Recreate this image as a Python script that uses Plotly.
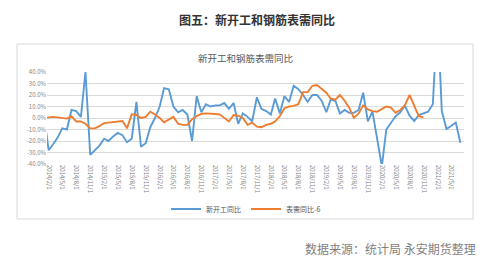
import pandas as pd
import plotly.graph_objects as go

# ---------------- data (monthly, starting 2014-01) ----------------
start_month = "2014-01-01"
new_start_yoy = [
    2, -28, -23, -17, -9, -10, 7, 6, 1, 40,
    -32, -28, -24, -18, -20, -16, -13, -15, -21, -18,
    14, -25, -22, -8, 0, 10, 26, 25, 10, 5,
    7, 3, -20, 19, 5, 12, 10, 11, 11, 13,
    8, 13, -5, 4, 1, -3, 18, 8, 6, 3,
    17, 4, 19, 14, 28, 25, 20, 14, 20, 20,
    15, 5, 16, 15, 4, 7, 4.5, 4.5, 7, 22,
    -3, 5.5, -17, -42, -10, -4, 1.5, 5, 10.7, 2,
    -2.6, 2.6, 4, 5.5, 12, 90, 6, -9.6, -7, -4,
    -21.5,
]
rebar_demand_yoy = [
    0, 0.5, 1, 0.5, 0, -0.5, 1.5, -3, -3, -5,
    -9, -9, -7, -4.5, -4, -3.5, -2.6, -2.6, -9, 3.2,
    2.6, 0, 1, 5.5, 3, 0, -3.8, -1, 1, -5,
    -6, -6, -1, 1.7, 3.5, 4, 4, 3.5, 3.2, 0,
    -3, 2.6, 2, 0, -6, -4, -7.5, -8, -6, -5,
    -3, 1.5, 8.5, 10, 10.5, 12, 22.5, 22.5, 28, 28.7,
    25, 22, 17, 16, 20, 15, 9, 0, 4, 11,
    7.5, 6, 5.5, 8, 10, 9, 4.5, 7, 11, 20,
    10, 1.5, 0.5,
]
series_names = ["新开工同比", "表需同比-6"]
series_colors = ["#5B9BD5", "#ED7D31"]

tick_dates = pd.date_range("2014-02-01", "2021-05-01", freq="3MS")
tick_text = [f"{d.year}/{d.month}/1" for d in tick_dates]
y_ticks = [40, 30, 20, 10, 0, -10, -20, -30, -40]
y_text = [f"{v:.1f}%" for v in y_ticks]

main_title = "图五：新开工和钢筋表需同比"
chart_title = "新开工和钢筋表需同比"
source_text = "数据来源：统计局 永安期货整理"

# ---------------- layout geometry (pixels) ----------------
W, H = 500, 260
PL, PR, PT, PB = 47, 464, 72, 164   # plot area


def px_x(x):
    return (x - PL) / (PR - PL)


def px_y(y):
    return (PB - y) / (PB - PT)


dates_a = pd.date_range(start_month, periods=len(new_start_yoy), freq="MS")
dates_b = pd.date_range(start_month, periods=len(rebar_demand_yoy), freq="MS")

font_cjk = "Noto Sans CJK SC, Noto Sans, sans-serif"

fig = go.Figure()
fig.add_trace(go.Scatter(x=dates_a, y=new_start_yoy, mode="lines", name=series_names[0],
                         line=dict(color=series_colors[0], width=1.9)))
fig.add_trace(go.Scatter(x=dates_b, y=rebar_demand_yoy, mode="lines", name=series_names[1],
                         line=dict(color=series_colors[1], width=1.9)))

fig.update_layout(
    width=W, height=H,
    margin=dict(l=PL, r=W - PR, t=PT, b=H - PB),
    paper_bgcolor="white", plot_bgcolor="white",
    font=dict(family=font_cjk, color="#595959"),
    showlegend=True,
    legend=dict(orientation="h", x=px_x(246), xanchor="center", y=px_y(209), yanchor="middle",
                font=dict(size=7, color="#595959"), itemwidth=30, bgcolor="rgba(0,0,0,0)"),
    xaxis=dict(type="date", range=["2014-01-21", "2021-07-25"], tickmode="array",
               tickvals=tick_dates, ticktext=tick_text, tickangle=90,
               tickfont=dict(size=6, color="#7F7F7F"), showgrid=False, zeroline=False,
               showline=False, ticks=""),
    yaxis=dict(range=[-40, 40], tickmode="array", tickvals=y_ticks, ticktext=y_text,
               tickfont=dict(size=6, color="#7F7F7F"), showgrid=True, gridcolor="#D9D9D9",
               gridwidth=1, zeroline=False, showline=False, ticks=""),
    shapes=[dict(type="rect", xref="paper", yref="paper",
                 x0=px_x(17), x1=px_x(473), y0=px_y(219), y1=px_y(44),
                 line=dict(color="#D9D9D9", width=1), fillcolor="rgba(0,0,0,0)", layer="below")],
    annotations=[
        dict(text="<b>" + main_title + "</b>", xref="paper", yref="paper", x=px_x(257), y=px_y(20),
             showarrow=False, xanchor="center", yanchor="middle",
             font=dict(size=12, color="#333333", family=font_cjk)),
        dict(text=chart_title, xref="paper", yref="paper", x=px_x(245), y=px_y(58),
             showarrow=False, xanchor="center", yanchor="middle",
             font=dict(size=9.5, color="#595959", family=font_cjk)),
        dict(text=source_text, xref="paper", yref="paper", x=px_x(478), y=px_y(248),
             showarrow=False, xanchor="right", yanchor="middle",
             font=dict(size=12, color="#7F7F7F", family=font_cjk)),
    ],
)

fig.write_html("out.html")
